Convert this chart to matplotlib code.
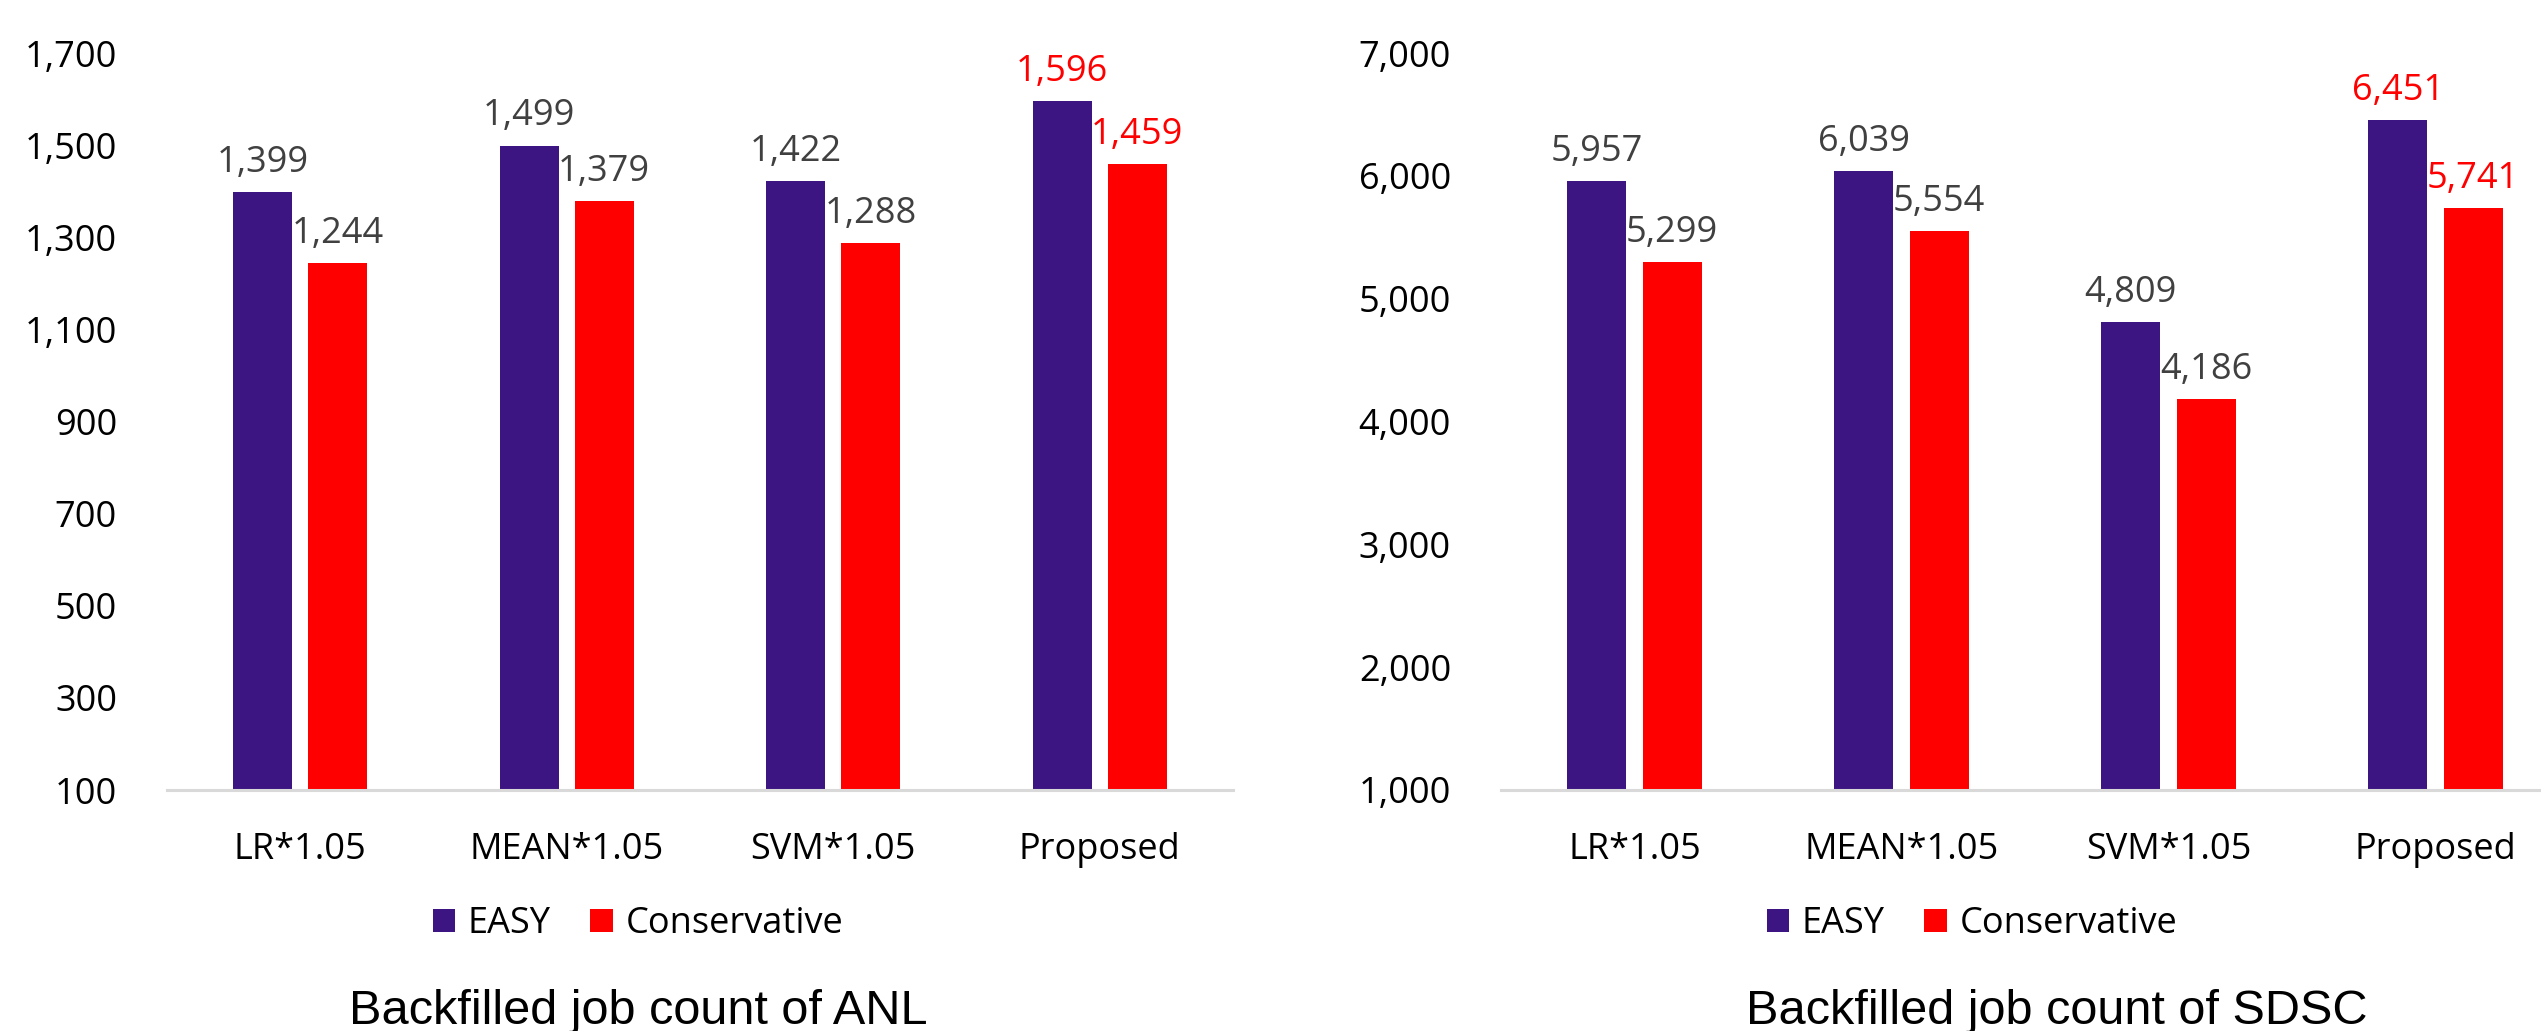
import numpy as np
import matplotlib.pyplot as plt
from matplotlib.ticker import FuncFormatter

# job counts per predictor, for the two backfilling policies
methods = ["LR*1.05", "MEAN*1.05", "SVM*1.05", "Proposed"]
series_names = ["EASY", "Conservative"]

anl_easy = [1399, 1499, 1422, 1596]
anl_conservative = [1244, 1379, 1288, 1459]
anl_ticks = [100, 300, 500, 700, 900, 1100, 1300, 1500, 1700]

sdsc_easy = [5957, 6039, 4809, 6451]
sdsc_conservative = [5299, 5554, 4186, 5741]
sdsc_ticks = [1000, 2000, 3000, 4000, 5000, 6000, 7000]

titles = ["Backfilled job count of ANL", "Backfilled job count of SDSC"]

PURPLE = "#3D1582"
RED = "#FF0000"
LABEL_GRAY = "#404040"
UI_FONT = ["Open Sans", "DejaVu Sans"]
TITLE_FONT = ["Liberation Sans", "DejaVu Sans"]

W, H = 2541, 1031
fig = plt.figure(figsize=(W / 100, H / 100), dpi=100)


def px_box(x0, x1, y_top, y_bot):
    return [x0 / W, 1 - y_bot / H, (x1 - x0) / W, (y_bot - y_top) / H]


def draw_panel(ax, easy, conservative, ticks):
    x = np.arange(len(methods))
    width = 0.221
    offset = 0.1407
    b1 = ax.bar(x - offset, easy, width, color=PURPLE, label=series_names[0])
    b2 = ax.bar(x + offset, conservative, width, color=RED, label=series_names[1])

    for bars, vals in ((b1, easy), (b2, conservative)):
        for i, (rect, v) in enumerate(zip(bars, vals)):
            color = RED if methods[i] == "Proposed" else LABEL_GRAY
            ax.annotate(f"{v:,}", (rect.get_x() + rect.get_width() / 2, v),
                        xytext=(0, 8), textcoords="offset points",
                        ha="center", va="bottom", fontsize=26,
                        color=color, family=UI_FONT)

    ax.set_xlim(-0.5, len(methods) - 0.5)
    ax.set_ylim(ticks[0], ticks[-1])
    ax.set_yticks(ticks)
    ax.yaxis.set_major_formatter(FuncFormatter(lambda v, p: f"{int(v):,}"))
    ax.set_xticks(x)
    ax.set_xticklabels(methods)
    for lab in ax.get_xticklabels() + ax.get_yticklabels():
        lab.set_family(UI_FONT)
        lab.set_fontsize(26)
    ax.tick_params(axis="y", length=0, pad=36)
    ax.tick_params(axis="x", length=0, pad=30)
    for side in ("top", "right", "left"):
        ax.spines[side].set_visible(False)
    ax.spines["bottom"].set_color("#D9D9D9")
    ax.spines["bottom"].set_linewidth(2.2)
    return b1, b2


ax1 = fig.add_axes(px_box(167, 1233, 53, 790))
ax2 = fig.add_axes(px_box(1501, 2569, 53, 790))

panels = [
    (ax1, anl_easy, anl_conservative, anl_ticks, 638, 638),
    (ax2, sdsc_easy, sdsc_conservative, sdsc_ticks, 1972, 2057),
]
for (ax, easy, cons, ticks, legend_x, title_x), title in zip(panels, titles):
    handles = draw_panel(ax, easy, cons, ticks)
    fig.legend(handles, series_names, loc="center",
               bbox_to_anchor=(legend_x / W, 1 - 924 / H), ncol=2,
               frameon=False, prop={"family": UI_FONT, "size": 26},
               handlelength=0.62, handleheight=0.62, handletextpad=0.35,
               columnspacing=1.1)
    fig.text(title_x / W, 1 - 1024 / H, title, ha="center", va="baseline",
             fontsize=35, family=TITLE_FONT)

fig.savefig("out.png", dpi=100)
